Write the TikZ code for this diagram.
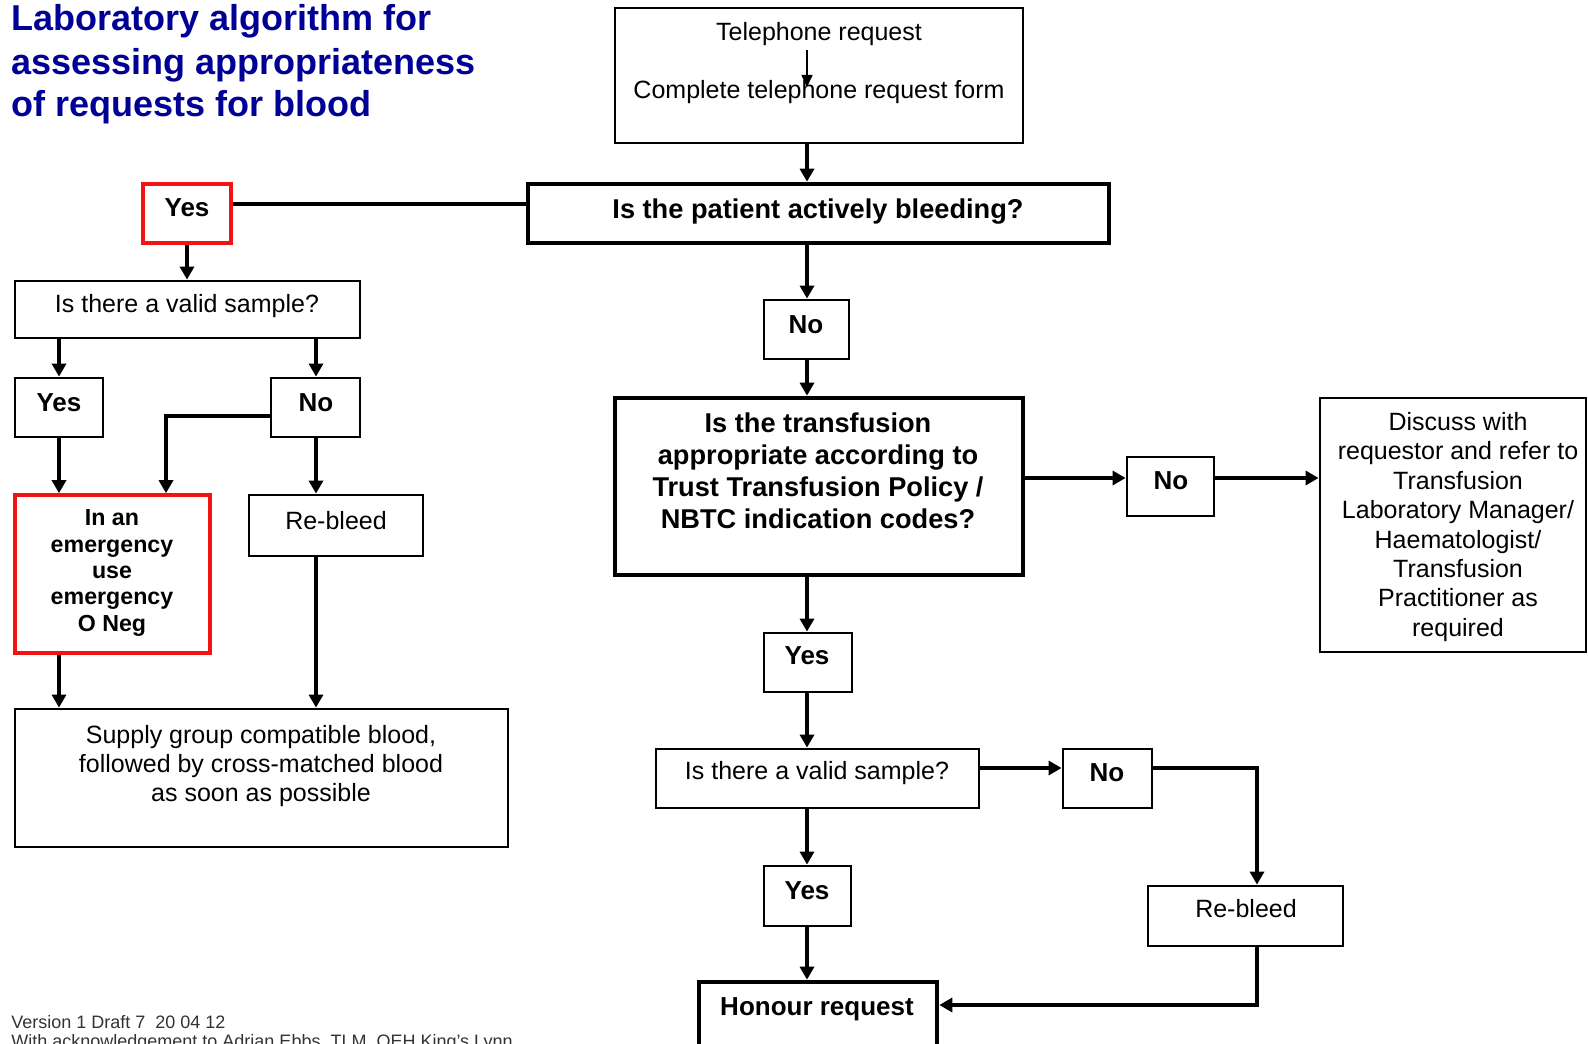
\documentclass[tikz,border=0pt]{standalone}
\usepackage{fontspec}
\setmainfont{Liberation Sans}
\usetikzlibrary{arrows.meta,fit}
\definecolor{titleblue}{RGB}{0,0,150}
\definecolor{boxred}{RGB}{240,20,20}
\begin{document}
\begin{tikzpicture}[x=0.5pt,y=-0.5pt,
 box/.style={draw,line width=1.4pt,inner sep=0pt},
 thickbox/.style={draw,line width=2.3pt,inner sep=0pt},
 redbox/.style={draw=boxred,line width=1.8pt,inner sep=0pt},
 txt/.style={font=\fontsize{12.5}{14.7}\selectfont,align=center,inner sep=0pt},
 btxt/.style={font=\fontsize{13}{16}\selectfont\bfseries,align=center,inner sep=0pt},
 wtxt/.style={font=\fontsize{13.6}{16}\selectfont\bfseries,align=center,inner sep=0pt},
 stxt/.style={font=\fontsize{11.6}{13.2}\selectfont\bfseries,align=center,inner sep=0pt},
 ttl/.style={font=\fontsize{18}{21.5}\selectfont\bfseries,text=titleblue,anchor=base west,inner sep=0pt},
 foot/.style={font=\fontsize{9}{10}\selectfont,text=black!80,anchor=base west,inner sep=0pt},
 arr/.style={line width=1.7pt,-{Triangle[length=6.5pt,width=7pt]}},
 thinarr/.style={line width=0.8pt,-{Triangle[length=6pt,width=5.5pt]}},
 ln/.style={line width=1.7pt},
]
\useasboundingbox (0,0) rectangle (1588,1043);

% title
\node[ttl] (t1) at (11,31) {Laboratory algorithm for};
\node[ttl] (t2) at (11,75) {assessing appropriateness};
\node[ttl] (t3) at (11,117) {of requests for blood};

% footer
\node[foot] (f1) at (11,1028) {Version 1 Draft 7\ \ 20 04 12};
\node[foot] (f2) at (11,1047) {With acknowledgement to Adrian Ebbs, TLM, QEH King's Lynn};

% boxes
\node[box,fit={(615,8)(1023,143)}] (top) {};
\node[thickbox,fit={(528,184)(1109,243)}] (bleed) {};
\node[redbox,fit={(143,184)(231,243)}] (yesA) {};
\node[box,fit={(15,281)(360,338)}] (vsA) {};
\node[box,fit={(15,378)(103,437)}] (yesB) {};
\node[box,fit={(271,378)(360,437)}] (noB) {};
\node[redbox,fit={(15,495)(210,653)}] (emerg) {};
\node[box,fit={(249,495)(423,556)}] (rebA) {};
\node[box,fit={(15,709)(508,847)}] (supply) {};
\node[box,fit={(764,300)(849,359)}] (noC) {};
\node[thickbox,fit={(615,398)(1023,575)}] (trans) {};
\node[box,fit={(1127,457)(1214,516)}] (noD) {};
\node[box,fit={(1320,398)(1586,652)}] (disc) {};
\node[box,fit={(764,633)(852,692)}] (yesC) {};
\node[box,fit={(656,749)(979,808)}] (vsB) {};
\node[box,fit={(1063,749)(1152,808)}] (noE) {};
\node[box,fit={(1148,886)(1343,946)}] (rebB) {};
\node[box,fit={(764,866)(851,926)}] (yesD) {};
\node[thickbox,fit={(699,982)(937,1070)}] (honour) {};

% texts
\node[txt] (l-tel) at (819,34) {Telephone request};
\node[txt] (l-form) at (819,92) {Complete telephone request form};
\node[wtxt] (l-bleed) at (818,212) {Is the patient actively bleeding?};
\node[btxt] (l-yesA) at (187,208) {Yes};
\node[txt] (l-vsA) at (187,306) {Is there a valid sample?};
\node[btxt] (l-yesB) at (59,403) {Yes};
\node[btxt] (l-noB) at (316,403) {No};
\node[stxt] (l-emerg) at (112,573) {In an\\emergency\\use\\emergency\\O Neg};
\node[txt] (l-rebA) at (336,521) {Re-bleed};
\node[txt] (l-supply) at (261,766) {Supply group compatible blood,\\followed by cross-matched blood\\as soon as possible};
\node[btxt] (l-noC) at (806,325) {No};
\node[wtxt] (l-trans) at (818,471) {Is the transfusion\\appropriate according to\\Trust Transfusion Policy /\\NBTC indication codes?};
\node[btxt] (l-noD) at (1171,481) {No};
\node[txt] (l-disc) at (1458,527) {Discuss with\\requestor and refer to\\Transfusion\\Laboratory Manager/\\Haematologist/\\Transfusion\\Practitioner as\\required};
\node[btxt] (l-yesC) at (807,656) {Yes};
\node[txt] (l-vsB) at (817,773) {Is there a valid sample?};
\node[btxt] (l-noE) at (1107,773) {No};
\node[btxt] (l-yesD) at (807,891) {Yes};
\node[txt] (l-rebB) at (1246,909) {Re-bleed};
\node[btxt] (l-honour) at (817,1009) {Honour request};

% helper coordinates
\coordinate (cx) at (807,0);
\coordinate (tipT) at (807,87);
\coordinate (cyA) at (0,204);
\coordinate (cxL) at (59,0);
\coordinate (cxR) at (316,0);
\coordinate (cyN) at (0,416);
\coordinate (cxN) at (166,0);
\coordinate (cyD) at (0,478);
\coordinate (cyE) at (0,768);
\coordinate (cxE) at (1257,0);
\coordinate (cyH) at (0,1005);

% connectors
\draw[thinarr] (l-tel.south -| cx) ++(0,4) -- (tipT);
\draw[arr] (top.south -| cx) -- (bleed.north -| cx);
\draw[ln] (bleed.west |- cyA) -- (yesA.east |- cyA);
\draw[arr] (yesA.south) -- (vsA.north -| yesA.south);
\draw[arr] (vsA.south -| cxL) -- (yesB.north -| cxL);
\draw[arr] (vsA.south -| cxR) -- (noB.north -| cxR);
\draw[arr] (yesB.south -| cxL) -- (emerg.north -| cxL);
\draw[arr] (noB.west |- cyN) -| (emerg.north -| cxN);
\draw[arr] (noB.south -| cxR) -- (rebA.north -| cxR);
\draw[arr] (emerg.south -| cxL) -- (supply.north -| cxL);
\draw[arr] (rebA.south -| cxR) -- (supply.north -| cxR);
\draw[arr] (bleed.south -| cx) -- (noC.north -| cx);
\draw[arr] (noC.south -| cx) -- (trans.north -| cx);
\draw[arr] (trans.east |- cyD) -- (noD.west |- cyD);
\draw[arr] (noD.east |- cyD) -- (disc.west |- cyD);
\draw[arr] (trans.south -| cx) -- (yesC.north -| cx);
\draw[arr] (yesC.south -| cx) -- (vsB.north -| cx);
\draw[arr] (vsB.east |- cyE) -- (noE.west |- cyE);
\draw[arr] (noE.east |- cyE) -| (rebB.north -| cxE);
\draw[arr] (vsB.south -| cx) -- (yesD.north -| cx);
\draw[arr] (yesD.south -| cx) -- (honour.north -| cx);
\draw[arr] (rebB.south -| cxE) |- (honour.east |- cyH);
\end{tikzpicture}
\end{document}
